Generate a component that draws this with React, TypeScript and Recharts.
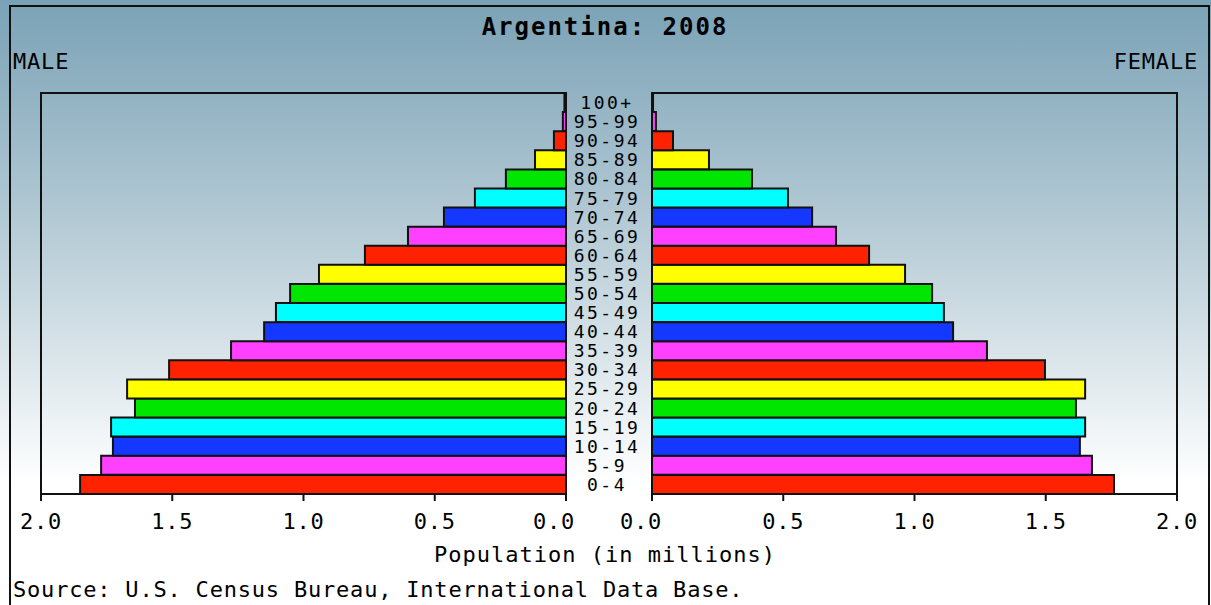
import React from 'react';
import { BarChart, Bar, XAxis, YAxis, Cell, ReferenceArea } from 'recharts';

const ageGroups = ['0-4','5-9','10-14','15-19','20-24','25-29','30-34','35-39','40-44','45-49','50-54','55-59','60-64','65-69','70-74','75-79','80-84','85-89','90-94','95-99','100+'];
const maleValues = [1.851,1.771,1.726,1.733,1.642,1.672,1.512,1.276,1.150,1.105,1.051,0.941,0.766,0.602,0.465,0.347,0.229,0.118,0.046,0.012,0.006];
const femaleValues = [1.760,1.676,1.630,1.650,1.615,1.650,1.497,1.276,1.147,1.112,1.067,0.964,0.827,0.701,0.610,0.518,0.381,0.217,0.080,0.015,0.004];
const xTicks = [0, 0.5, 1, 1.5, 2];
const palette = ['#ff2200', '#ff40ff', '#1438ff', '#00ffff', '#00e600', '#ffff00'];

const rows = ageGroups.map((age, i) => ({ age, male: maleValues[i], female: femaleValues[i] }));

const FONT = '"DejaVu Sans Mono", "Liberation Mono", monospace';

const AgeTick = (props: any) => {
  const { x, y, payload } = props;
  return (
    <text x={x + 41} y={y} dy="0.36em" textAnchor="middle" fontFamily={FONT} fontSize={18} fill="#000" letterSpacing={2.5}>
      {payload.value}
    </text>
  );
};

const makeXTick = (zeroShift: number) => (props: any) => {
  const { x, y, payload } = props;
  const shift = payload.value === 0 ? zeroShift : 0;
  return (
    <text x={x + shift} y={y} dy="0.71em" textAnchor="middle" fontFamily={FONT} fontSize={22} fill="#000" letterSpacing={0.8}>
      {Number(payload.value).toFixed(1)}
    </text>
  );
};
const LeftXTick = makeXTick(-12);
const RightXTick = makeXTick(-11);

export default function App() {
  return (
    <div style={{ position: 'absolute', left: 0, top: 0, width: 1211, height: 605, overflow: 'hidden',
      background: 'linear-gradient(to bottom, #7aa2b6 0%, #a9c2cf 30%, #d3e0e6 55%, #ffffff 80%, #ffffff 100%)' }}>
      <div style={{ position: 'absolute', left: 9, top: 5, width: 1197, height: 640, border: '2px solid #111' }} />
      <div style={{ position: 'absolute', left: 0, top: 0 }}>
        <BarChart width={652} height={534} data={rows} layout="vertical" barCategoryGap={0}
          margin={{ top: 93, left: 41, right: 0, bottom: 0 }}>
          <XAxis type="number" domain={[0, 2]} ticks={xTicks} reversed interval={0}
            height={40} tickSize={7} tickMargin={12} tick={<LeftXTick />}
            axisLine={{ stroke: '#111', strokeWidth: 2 }} tickLine={{ stroke: '#111', strokeWidth: 2 }} />
          <YAxis type="category" dataKey="age" orientation="right" reversed width={86} interval={0}
            axisLine={false} tickLine={false} tickSize={0} tickMargin={0} tick={<AgeTick />} />
          <ReferenceArea x1={0} x2={2} fill="none" stroke="#111" strokeWidth={2} />
          <Bar dataKey="male" isAnimationActive={false} stroke="#111" strokeWidth={2}>
            {rows.map((r, i) => <Cell key={r.age} fill={palette[i % palette.length]} />)}
          </Bar>
        </BarChart>
      </div>
      <div style={{ position: 'absolute', left: 612, top: 0 }}>
        <BarChart width={600} height={534} data={rows} layout="vertical" barCategoryGap={0}
          margin={{ top: 93, left: 40, right: 35, bottom: 0 }}>
          <XAxis type="number" domain={[0, 2]} ticks={xTicks} interval={0}
            height={40} tickSize={7} tickMargin={12} tick={<RightXTick />}
            axisLine={{ stroke: '#111', strokeWidth: 2 }} tickLine={{ stroke: '#111', strokeWidth: 2 }} />
          <YAxis type="category" dataKey="age" reversed hide />
          <ReferenceArea x1={0} x2={2} fill="none" stroke="#111" strokeWidth={2} />
          <Bar dataKey="female" isAnimationActive={false} stroke="#111" strokeWidth={2}>
            {rows.map((r, i) => <Cell key={r.age} fill={palette[i % palette.length]} />)}
          </Bar>
        </BarChart>
      </div>
      <svg width={1211} height={605} style={{ position: 'absolute', left: 0, top: 0, pointerEvents: 'none' }}>
        <text x={605} y={35} textAnchor="middle" fontFamily={FONT} fontWeight="bold" fontSize={24} letterSpacing={2} fill="#000">Argentina: 2008</text>
        <text x={13} y={69} fontFamily={FONT} fontSize={22} letterSpacing={0.8} fill="#000">MALE</text>
        <text x={1198} y={69} textAnchor="end" fontFamily={FONT} fontSize={22} letterSpacing={0.8} fill="#000">FEMALE</text>
        <text x={605} y={562} textAnchor="middle" fontFamily={FONT} fontSize={22} letterSpacing={1} fill="#000">Population (in millions)</text>
        <text x={13} y={597} fontFamily={FONT} fontSize={22} letterSpacing={0.8} fill="#000">Source: U.S. Census Bureau, International Data Base.</text>
      </svg>
    </div>
  );
}
